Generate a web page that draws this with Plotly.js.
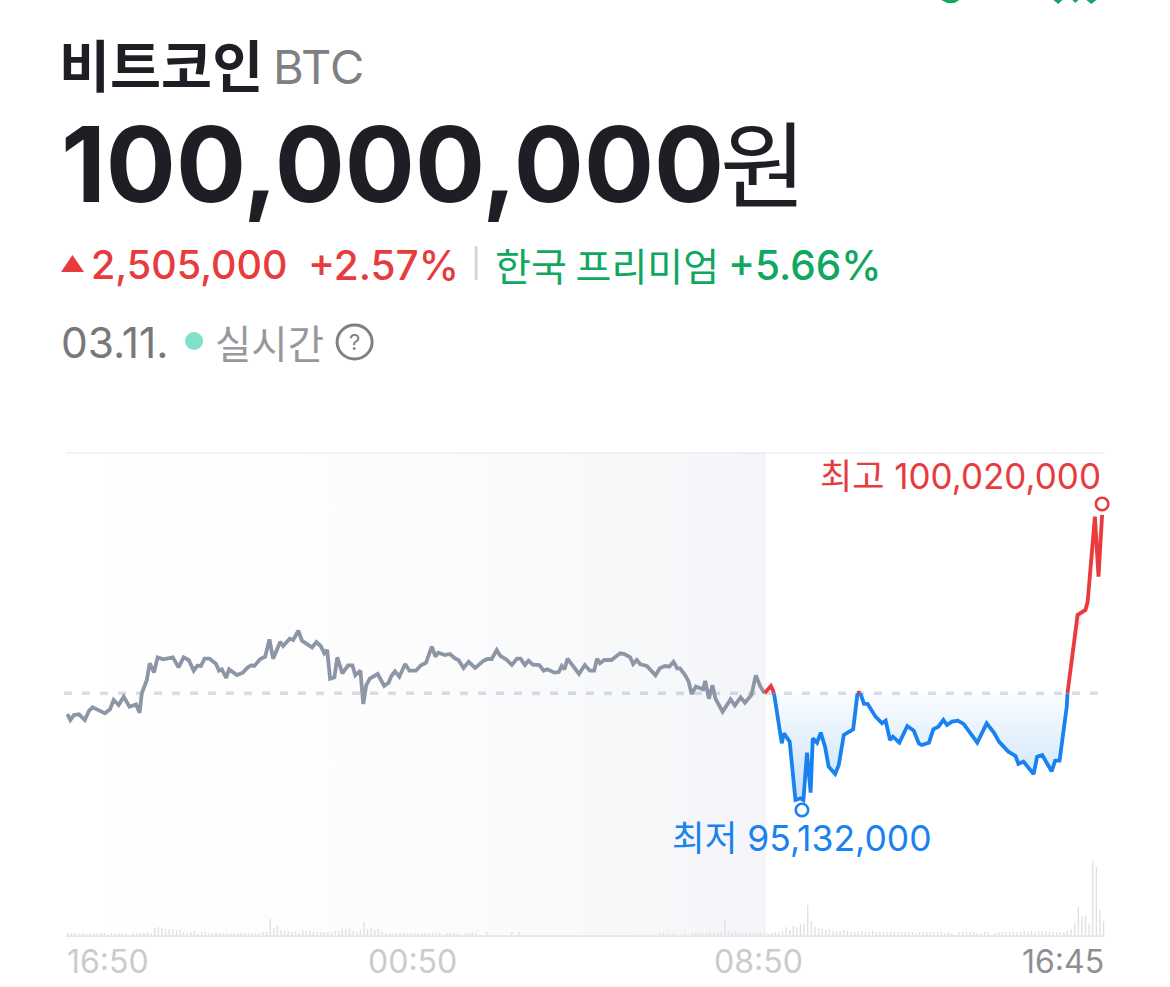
<!DOCTYPE html>
<html><head><meta charset="utf-8">
<script src="https://cdn.plot.ly/plotly-3.0.1.min.js"></script>
<style>html,body{margin:0;padding:0;background:#fff}#c{width:1170px;height:987px}</style>
</head><body><div id="c"></div>
<script>
// price values in units of 10,000 KRW; time in minutes since 16:50
const baseline = 9696.2;
const grayMin = [2,6,11,18,26,32,37,45,54,61,66,73,80,88,97,102,105,112,116,122,127,135,148,156,163,170,177,182,187,192,199,208,212,216,222,226,237,245,252,257,261,269,276,282,287,297,301,310,315,322,327,341,347,353,358,362,366,372,376,383,391,397,401,408,412,416,421,432,441,447,451,456,462,470,476,485,492,499,507,512,516,525,532,539,544,551,558,567,579,584,590,597,602,611,618,625,630,636,641,647,656,662,667,677,683,687,691,695,703,711,719,726,732,736,740,746,756,768,774,782,786,791,796,805,817,823,830,836,842,847,851,858,863,867,873,883,886,891,896,900,910,921,927,935,941,950,956,962,968];
const grayVal = [9660.7,9650.4,9658.9,9660.1,9650.4,9666.4,9672.1,9667.5,9661.8,9668.7,9684.7,9676.1,9690.4,9673.2,9677.2,9662.9,9696.1,9719,9747.6,9732.1,9757.8,9754.4,9757.8,9740.7,9757.8,9753.3,9735,9743.6,9743,9755.6,9755.6,9746.4,9735,9737.3,9722.4,9737.3,9727.6,9731.6,9740.7,9744.1,9743,9754.4,9759,9788.7,9755.6,9784.7,9777.3,9789.9,9787.6,9803.6,9786.4,9775,9784.2,9777.3,9764.7,9770.4,9721.3,9723.6,9757.8,9730.4,9744.1,9744.1,9727,9735,9677.8,9709.8,9721.3,9729.3,9708.7,9714.4,9725.8,9733.8,9724.7,9746.4,9735,9735,9744.2,9748.7,9776.2,9759,9765.9,9761.9,9763.6,9756.2,9753.3,9739.6,9750.4,9739.6,9752.2,9755,9755,9770.4,9760.2,9753.3,9744.7,9755.6,9755.6,9744.7,9752.2,9745.3,9744.7,9735,9737.3,9731.6,9732.7,9743,9737.3,9755.6,9741.9,9729.3,9744.7,9735,9735,9755.6,9747.6,9753.3,9753.3,9764.7,9763.6,9757.9,9746.4,9753.3,9745.9,9743,9727,9739,9743,9741.9,9750.4,9739,9739,9727.6,9716.2,9695,9707.6,9703,9717.3,9687,9709.8,9687.5,9664.7,9685.8,9675.5,9689.3,9680.1,9693.3,9727,9708.7,9696.2];
const red1Min = [968,977,980,981];
const red1Val = [9696.2,9708.7,9700.7,9696.2];
const blue1Min = [981,982,992,995,1003,1011,1018,1022,1027,1032,1035,1041,1046,1052,1057,1066,1071,1078,1091,1095,1097];
const blue1Val = [9696.2,9690.4,9610.4,9627.6,9613.3,9513.2,9516.1,9513.2,9594.4,9525.8,9619,9611.5,9628.7,9604.7,9570.4,9557.8,9573.2,9624.7,9634.4,9679,9696.2];
const red2Min = [1097,1099,1101];
const red2Val = [9696.2,9697.5,9696.2];
const blue2Min = [1101,1106,1111,1122,1131,1136,1142,1146,1155,1166,1175,1182,1186,1196,1202,1209,1216,1221,1228,1236,1244,1263,1276,1286,1293,1306,1316,1320,1327,1341,1346,1353,1366,1371,1377,1383,1387,1388];
const blue2Val = [9696.2,9677.9,9677.9,9656.1,9644.7,9649.3,9616.1,9621.8,9611.5,9640.1,9632.1,9610.4,9607.5,9611.5,9634.4,9639,9650.4,9641.8,9647.6,9649.3,9643.6,9611.5,9644.7,9628.7,9613.3,9596.1,9588.7,9575,9579,9557.8,9587.5,9590.4,9562.4,9580.7,9580.7,9639,9673.3,9696.2];
const red3Min = [1388,1394,1402,1413,1416,1426,1431,1436];
const red3Val = [9696.2,9759,9830.5,9839.1,9853.4,9999.2,9896.3,10002];
const extremeMin = [1436,1020];
const extremeVal = [10020.9,9496.1];
// relative traded volume per 5-minute candle
const volume = [
2,2,2,2,2,1,2,2,2,2,2,0, 2,2,2,2,2,0,2,2,2,2,3,2,
7,8,7,6,6,6,5,5,3,2,3,4, 2,3,3,2,2,3,2,2,2,2,2,2,
2,2,2,2,2,2,3,3,16,7,9,5, 4,4,3,3,2,5,4,5,3,3,3,3,
3,3,4,4,6,6,7,4,3,5,13,6, 7,5,6,3,2,2,2,2,2,2,2,2,
2,2,2,2,2,2,2,3,0,2,2,2, 2,0,2,2,3,2,0,0,3,0,0,0,
0,0,0,3,0,3,0,0,0,0,0,0, 0,0,0,0,0,0,0,0,0,0,0,0,
0,0,0,0,0,0,0,0,0,0,0,0, 0,0,0,0,0,0,0,0,2,2,2,0,
2,0,0,2,0,2,2,2,2,3,3,2, 3,3,14,4,3,3,2,2,2,2,2,2,
2,2,2,2,3,3,4,8,5,9,8,11, 11,30,14,8,7,6,5,6,4,4,4,5,
4,3,3,3,4,3,3,4,3,3,3,3, 3,3,3,3,3,3,3,2,3,3,3,3,
3,3,3,2,3,2,0,3,3,3,3,3, 2,2,3,3,0,2,3,3,3,3,3,3,
3,4,3,4,3,4,4,3,3,3,3,3, 3,4,6,12,28,19,19,11,74,68,25,14];
const tickMin = [0,480,960,1440];
const tickText = ['16:50','00:50','08:50','16:45'];
const sessionOpenMin = 970;

const GRAY='#8d96a7', RED='#e73b3e', BLUE='#1a82f0', GREEN='#10a760', DARK='#1e1e24';
const W=1170,H=987,L=66,R=65.4,T=453,B=52;
const px=x=>(x-L)/(W-L-R), py=y=>(H-B-y)/(H-T-B);
const yTop=10108.3, yBot=9281.7;
const INTER='Inter, "Noto Sans CJK KR", sans-serif', KR='"Noto Sans CJK KR", sans-serif';

function seg(x,y,c,fillOn,stop,a0,a1){
  const t={x,y,mode:'lines',type:'scatter',line:{color:c,width:3.8,shape:'linear'},hoverinfo:'skip',showlegend:false};
  if(fillOn){
    const rgb=c===RED?'231,59,62':'26,130,240';
    t.fill='toself';
    t.fillgradient={type:'vertical',start:baseline,stop,colorscale:[[0,`rgba(${rgb},${a0})`],[1,`rgba(${rgb},${a1})`]]};
  }
  return t;
}
const traces=[
 {x:[0,0,sessionOpenMin,sessionOpenMin,0],y:[yBot,yTop,yTop,yBot,yBot],mode:'none',type:'scatter',fill:'toself',hoverinfo:'skip',showlegend:false,
  fillgradient:{type:'horizontal',start:0,stop:sessionOpenMin,colorscale:[[0,'rgba(70,90,140,0)'],[0.5,'rgba(70,90,140,0.016)'],[1,'rgba(70,90,140,0.058)']]}},
 {x:volume.map((_,i)=>i*5+3),y:volume,type:'bar',yaxis:'y2',width:1.8,marker:{color:'#dedfe4',line:{width:0}},hoverinfo:'skip',showlegend:false},
 seg(grayMin,grayVal,GRAY,false),
 seg(red1Min,red1Val,RED,false),
 seg(blue1Min,blue1Val,BLUE,true,9513.2,0.02,0.24),
 seg(red2Min,red2Val,RED,false),
 seg(blue2Min,blue2Val,BLUE,true,9513.2,0.02,0.24),
 seg(red3Min,red3Val,RED,true,10002,0.03,0.2),
 {x:extremeMin,y:extremeVal,mode:'markers',type:'scatter',cliponaxis:false,hoverinfo:'skip',showlegend:false,
  marker:{size:12.5,color:'#fff',line:{width:2.6,color:[RED,BLUE]}}}
];
function txt(text,x,y,size,color,opts={}){
  return Object.assign({text,xref:'paper',yref:'paper',x:px(x),y:py(y),xanchor:'left',yanchor:'middle',showarrow:false,borderpad:0,
    font:{size,color,family:opts.family||INTER,weight:opts.weight||400}},opts.extra||{});
}
const ann=[
 txt('비트코인',58,63,55.5,DARK,{family:KR,weight:700}),
 txt('BTC',272,66,47,'#808084'),
 txt('100,000,000',60,164,104,DARK,{weight:700}),
 txt('원',719,160,94,DARK,{family:KR,weight:400}),
 txt('2,505,000',90,265,39.5,RED,{weight:500}),
 txt('+2.57%',307,265,40.5,RED,{weight:500}),
 txt('한국 프리미엄',494,264,39,GREEN,{family:KR}),
 txt('+5.66%',727,265,40.5,GREEN,{weight:500}),
 txt('03.11.',60,342,42.5,'#78787c'),
 txt('실시간',214,341,39.5,'#98989c',{family:KR}),
 txt('?',354,342,22,'#808084',{extra:{xanchor:'center'}}),
 txt('최고 100,020,000',1102,476,35,RED,{extra:{xanchor:'right'}}),
 txt('최저 95,132,000',671,838,35.5,BLUE),
];
const tickAnchors=['left','center','center','right'];
const tickColors=['#cbcbce','#cbcbce','#cbcbce','#8f8f93'];
tickMin.forEach((m,i)=>ann.push({text:tickText[i],xref:'x',yref:'paper',x:m,y:py(961),xanchor:tickAnchors[i],yanchor:'middle',showarrow:false,borderpad:0,
  font:{size:32,color:tickColors[i],family:INTER}}));
const P=(x,y)=>px(x)+' '+py(y);
const shapes=[
 {type:'line',layer:'below',xref:'paper',yref:'y',x0:px(64),x1:px(1098),y0:baseline,y1:baseline,line:{color:'#dadde4',width:3.5,dash:'8px,10px'}},
 {type:'line',layer:'below',xref:'paper',yref:'paper',x0:0,x1:1,y0:1,y1:1,line:{color:'#f3f4f7',width:2}},
 {type:'path',xref:'paper',yref:'paper',path:`M ${P(61,272)} L ${P(84,272)} L ${P(72.5,255)} Z`,fillcolor:RED,line:{width:0}},
 {type:'line',xref:'paper',yref:'paper',x0:px(476),x1:px(476),y0:py(246),y1:py(280),line:{color:'#d6d6d9',width:3}},
 {type:'circle',xref:'paper',yref:'paper',x0:px(185),x1:px(203),y0:py(332),y1:py(350),fillcolor:'#7fe0cb',line:{width:0}},
 {type:'circle',xref:'paper',yref:'paper',x0:px(337),x1:px(372),y0:py(325),y1:py(359),fillcolor:'rgba(0,0,0,0)',line:{color:'#808084',width:3}},
 {type:'path',xref:'paper',yref:'paper',path:`M ${P(941,0)} L ${P(947,3)} L ${P(954,3)} L ${P(959,0)} Z`,fillcolor:GREEN,line:{width:0}},
 {type:'path',xref:'paper',yref:'paper',path:`M ${P(1053,0)} L ${P(1058,4)} L ${P(1062,0)} Z`,fillcolor:GREEN,line:{width:0}},
 {type:'path',xref:'paper',yref:'paper',path:`M ${P(1072,0)} L ${P(1078,0)} L ${P(1075,3)} Z`,fillcolor:GREEN,line:{width:0}},
 {type:'path',xref:'paper',yref:'paper',path:`M ${P(1086,0)} L ${P(1091,4)} L ${P(1096,0)} Z`,fillcolor:GREEN,line:{width:0}},
];
Plotly.newPlot('c',traces,{
 width:W,height:H,margin:{l:L,r:R,t:T,b:B,pad:0},paper_bgcolor:'#fff',plot_bgcolor:'rgba(0,0,0,0)',showlegend:false,hovermode:false,
 xaxis:{range:[0,1440],showgrid:false,zeroline:false,showticklabels:false,ticks:'',showline:true,linecolor:'#e8e9ed',linewidth:2,fixedrange:true},
 yaxis:{range:[yBot,yTop],showgrid:false,zeroline:false,showticklabels:false,ticks:'',fixedrange:true},
 yaxis2:{overlaying:'y',range:[0,482],showgrid:false,zeroline:false,showticklabels:false,ticks:'',fixedrange:true},
 annotations:ann,shapes
},{displayModeBar:false,staticPlot:true});
</script></body></html>
